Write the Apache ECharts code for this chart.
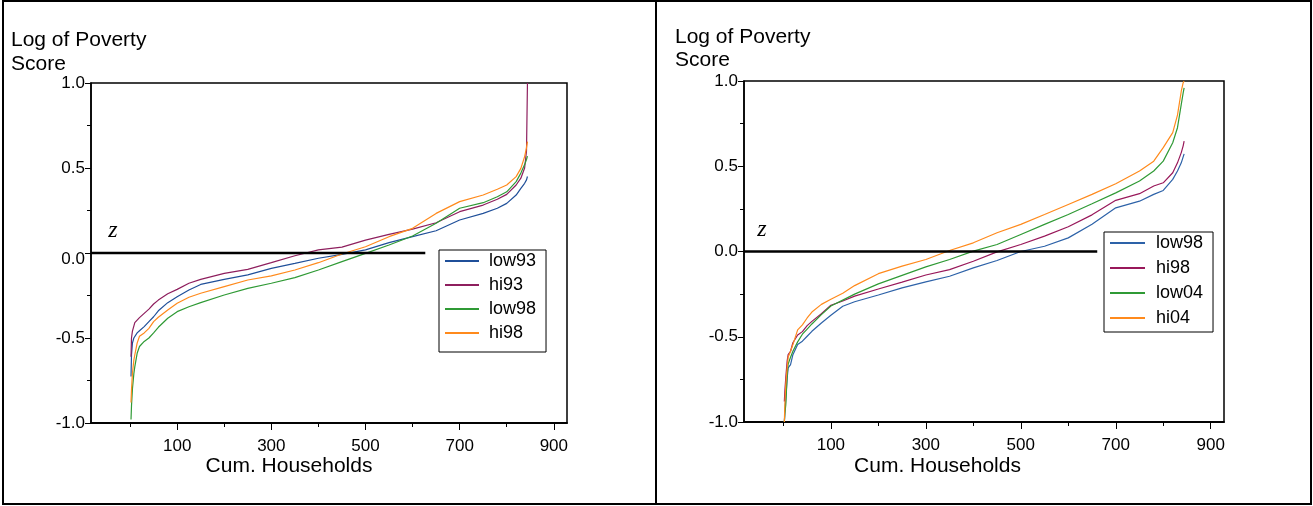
<!DOCTYPE html>
<html><head><meta charset="utf-8">
<script src="https://cdn.jsdelivr.net/npm/echarts@6/dist/echarts.min.js"></script>
<style>html,body{margin:0;padding:0;background:#fff}#c{width:1313px;height:506px}</style>
</head><body><div id="c"></div>
<script>
// Cumulative households (x) shared by all curves
const households = [2,3,5,8,10,15,20,30,40,50,60,80,100,125,150,200,250,300,350,400,450,500,550,600,650,700,750,780,800,820,830,838,842,844];

// Left panel: 1993 vs 1998
const low93 = [-0.727,-0.60,-0.53,-0.50,-0.49,-0.47,-0.457,-0.433,-0.404,-0.375,-0.34,-0.292,-0.257,-0.218,-0.185,-0.155,-0.129,-0.09,-0.061,-0.031,-0.008,0.018,0.061,0.096,0.131,0.194,0.233,0.263,0.292,0.341,0.38,0.41,0.43,0.45];
const hi93  = [-0.61,-0.50,-0.46,-0.43,-0.41,-0.395,-0.38,-0.355,-0.33,-0.30,-0.277,-0.24,-0.214,-0.178,-0.155,-0.12,-0.096,-0.057,-0.016,0.018,0.035,0.076,0.11,0.14,0.178,0.243,0.282,0.316,0.345,0.40,0.44,0.50,0.60,1.0];
const low98a = [-0.98,-0.90,-0.80,-0.71,-0.67,-0.59,-0.55,-0.52,-0.50,-0.47,-0.437,-0.384,-0.345,-0.316,-0.292,-0.247,-0.208,-0.178,-0.145,-0.10,-0.051,-0.002,0.047,0.10,0.175,0.263,0.296,0.331,0.36,0.42,0.47,0.52,0.55,0.57];
const hi98a  = [-0.88,-0.806,-0.708,-0.63,-0.60,-0.53,-0.49,-0.47,-0.443,-0.404,-0.378,-0.335,-0.296,-0.26,-0.237,-0.198,-0.159,-0.135,-0.10,-0.057,-0.006,0.037,0.096,0.145,0.233,0.302,0.341,0.375,0.40,0.449,0.498,0.567,0.62,0.655];

// Right panel: 1998 vs 2004
const low98b = [-1.0,-0.95,-0.86,-0.74,-0.683,-0.663,-0.605,-0.546,-0.526,-0.497,-0.468,-0.419,-0.374,-0.321,-0.295,-0.255,-0.213,-0.178,-0.145,-0.096,-0.053,0.0,0.031,0.08,0.16,0.256,0.295,0.335,0.358,0.423,0.472,0.52,0.555,0.573];
const hi98b  = [-0.88,-0.82,-0.74,-0.64,-0.605,-0.585,-0.535,-0.49,-0.47,-0.435,-0.41,-0.365,-0.315,-0.29,-0.262,-0.22,-0.18,-0.138,-0.106,-0.057,-0.002,0.041,0.09,0.145,0.215,0.30,0.339,0.384,0.403,0.462,0.52,0.58,0.62,0.648];
const low04  = [-1.0,-0.95,-0.90,-0.72,-0.66,-0.62,-0.585,-0.53,-0.485,-0.455,-0.425,-0.37,-0.32,-0.285,-0.25,-0.19,-0.14,-0.09,-0.047,0.002,0.041,0.10,0.159,0.217,0.28,0.344,0.413,0.472,0.53,0.638,0.726,0.863,0.93,0.96];
const hi04   = [-1.0,-0.90,-0.78,-0.68,-0.62,-0.585,-0.546,-0.46,-0.43,-0.39,-0.355,-0.31,-0.28,-0.245,-0.2,-0.13,-0.086,-0.047,0.006,0.051,0.11,0.159,0.217,0.276,0.335,0.397,0.472,0.53,0.609,0.697,0.80,0.94,0.99,1.0];

// Poverty line z (value 0) extents in households
const zLineLeft = [-83, 627];
const zLineRight = [-83, 661];

// Axes
const xRange = [-83, 928];
const xLabelTicks = [100, 300, 500, 700, 900];
const xMinorTicks = [0, 200, 400, 600, 800];
const yRange = [-1, 1];
const yStep = 0.5;

const FONT = '"Liberation Sans", Arial, Helvetica, sans-serif';
const pairs = (ys) => households.map((h, i) => [h, ys[i]]);

function xAxes(g) {
  return [
    { gridIndex: g, type: 'value', min: xRange[0], max: xRange[1], position: 'bottom',
      axisLine: { show: true, onZero: false, lineStyle: { color: '#000', width: 1.5 } },
      axisTick: { show: true, customValues: xLabelTicks, length: 7, lineStyle: { color: '#000', width: 1 } },
      axisLabel: { show: true, customValues: xLabelTicks, fontSize: 17, color: '#000', margin: 15, fontFamily: FONT },
      splitLine: { show: false } },
    { gridIndex: g, type: 'value', min: xRange[0], max: xRange[1], position: 'bottom',
      axisLine: { show: true, onZero: false, lineStyle: { color: '#000', width: 1.5 } },
      axisTick: { show: true, customValues: xMinorTicks, length: 4, lineStyle: { color: '#000', width: 1 } },
      axisLabel: { show: false },
      splitLine: { show: false } }
  ];
}
function yAxis(g, shiftZero) {
  return { gridIndex: g, type: 'value', min: yRange[0], max: yRange[1], interval: yStep, position: 'left',
    axisLine: { show: true, onZero: false, lineStyle: { color: '#000', width: 1.5 } },
    axisTick: { show: true, length: 6, lineStyle: { color: '#000', width: 1 } },
    minorTick: { show: true, splitNumber: 2, length: 4, lineStyle: { color: '#000', width: 1 } },
    axisLabel: { fontSize: 17, color: '#000', margin: 6, fontFamily: FONT,
      formatter: (v) => (shiftZero && v === 0) ? '{d|0.0}' : v.toFixed(1),
      rich: { d: { fontSize: 17, color: '#000', fontFamily: FONT, padding: [12, 0, 0, 0] } } },
    splitLine: { show: false }, minorSplitLine: { show: false } };
}
function line(name, ys, color, xi, yi) {
  return { type: 'line', name, data: pairs(ys), xAxisIndex: xi, yAxisIndex: yi,
    symbol: 'none', lineStyle: { width: 1.2, color }, itemStyle: { color }, animation: false };
}
function zSeries(ext, xi, yi) {
  return { type: 'line', name: 'z', data: [[ext[0], 0], [ext[1], 0]], xAxisIndex: xi, yAxisIndex: yi,
    symbol: 'none', lineStyle: { width: 2.4, color: '#000' }, silent: true, z: 5, animation: false };
}
function legend(left, top, names, gap, pad, iw, tp) {
  return { left, top, orient: 'vertical', data: names, formatter: (n) => n.trim(),
    icon: 'rect', itemWidth: iw, itemHeight: 2, itemGap: gap, padding: pad, selectedMode: false,
    borderColor: '#000', borderWidth: 1, borderRadius: 0, backgroundColor: '#fff',
    textStyle: { fontSize: 18, lineHeight: 20, color: '#000', fontFamily: FONT, padding: [0, 0, 0, tp] } };
}
function txt(x, y, text, size, align, extra) {
  return Object.assign({ type: 'text', x, y, silent: true,
    style: { text, fontSize: size, fontFamily: FONT, fill: '#000', align: align, verticalAlign: 'middle' } }, extra || {});
}

const BLUE = '#1f4f99', MAROON = '#8e1f5e', GREEN = '#2f9a35', ORANGE = '#ff8a1c', BLUE2 = '#2d62a8', MAROON2 = '#98185a';

const chart = echarts.init(document.getElementById('c'), null, { renderer: 'canvas' });
chart.setOption({
  animation: false,
  backgroundColor: '#fff',
  grid: [
    { left: 91, top: 83, width: 476, height: 340, show: true, borderColor: '#000', borderWidth: 1.5, backgroundColor: 'transparent', outerBoundsMode: 'none' },
    { left: 744, top: 81, width: 480, height: 341, show: true, borderColor: '#000', borderWidth: 1.5, backgroundColor: 'transparent', outerBoundsMode: 'none' }
  ],
  xAxis: [...xAxes(0), ...xAxes(1)],
  yAxis: [yAxis(0, true), yAxis(1, false)],
  legend: [
    legend(439, 250, ['low93', 'hi93', 'low98', 'hi98'], 4, [1, 10, 9, 6], 34, 5),
    legend(1104, 232, ['low98 ', 'hi98 ', 'low04', 'hi04'], 5, [1, 10, 4, 6], 35, 6)
  ],
  series: [
    line('low93', low93, BLUE, 0, 0),
    line('hi93', hi93, MAROON, 0, 0),
    line('low98', low98a, GREEN, 0, 0),
    line('hi98', hi98a, ORANGE, 0, 0),
    zSeries(zLineLeft, 0, 0),
    line('low98 ', low98b, BLUE2, 2, 1),
    line('hi98 ', hi98b, MAROON2, 2, 1),
    line('low04', low04, GREEN, 2, 1),
    line('hi04', hi04, ORANGE, 2, 1),
    zSeries(zLineRight, 2, 1)
  ],
  graphic: [
    { type: 'rect', silent: true, shape: { x: 3, y: 1, width: 653, height: 503 }, style: { fill: 'none', stroke: '#000', lineWidth: 2 } },
    { type: 'rect', silent: true, shape: { x: 656, y: 1, width: 655, height: 503 }, style: { fill: 'none', stroke: '#000', lineWidth: 2 } },
    txt(11, 40.5, 'Log of Poverty', 21, 'left'),
    txt(11, 63.8, 'Score', 21, 'left'),
    txt(675, 36.8, 'Log of Poverty', 21, 'left'),
    txt(675, 60.2, 'Score', 21, 'left'),
    txt(289, 466.5, 'Cum. Households', 21, 'center'),
    txt(937.5, 466.3, 'Cum. Households', 21, 'center'),
    { type: 'text', x: 113, y: 230.6, silent: true, style: { text: 'z', fontSize: 24, fontStyle: 'italic', fontFamily: '"Liberation Serif", "Times New Roman", serif', fill: '#000', align: 'center', verticalAlign: 'middle' } },
    { type: 'text', x: 762, y: 229.8, silent: true, style: { text: 'z', fontSize: 24, fontStyle: 'italic', fontFamily: '"Liberation Serif", "Times New Roman", serif', fill: '#000', align: 'center', verticalAlign: 'middle' } }
  ]
});
</script></body></html>
